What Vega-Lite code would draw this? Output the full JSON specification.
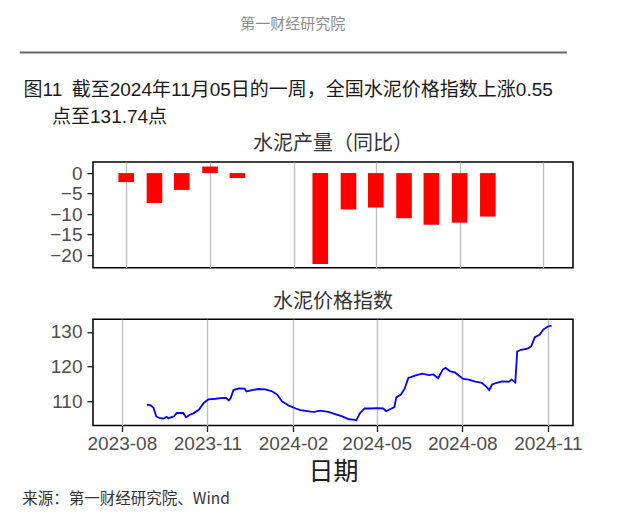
{
  "$schema": "https://vega.github.io/schema/vega-lite/v6.json",
  "background": "#ffffff",
  "padding": {"left": 19, "top": 16, "right": 5, "bottom": 5},
  "spacing": 6.1,
  "title": {
    "text": "来源：第一财经研究院、Wind",
    "orient": "bottom",
    "anchor": "start",
    "dx": 3,
    "offset": 7,
    "fontSize": 15.5,
    "color": "#333333",
    "font": "Noto Sans CJK SC, Liberation Sans"
  },
  "vconcat": [
    {
      "width": 547,
      "height": 1,
      "view": {"stroke": null},
      "title": {
        "text": "第一财经研究院",
        "anchor": "middle",
        "dx": -73.7,
        "offset": 17,
        "fontSize": 15,
        "color": "#8c8c8c"
      },
      "data": {"values": [{"pos": 0}]},
      "mark": {"type": "point", "opacity": 0},
      "encoding": {
        "x": {
          "field": "pos",
          "type": "quantitative",
          "scale": {"domain": [0, 1]},
          "axis": {
            "orient": "bottom",
            "position": -73.7,
            "domain": true,
            "domainColor": "#666666",
            "domainWidth": 2,
            "ticks": false,
            "labels": false,
            "grid": false,
            "title": ["图11\u2002截至2024年11月05日的一周，全国水泥价格指数上涨0.55", "\u200B\u3000\u2002点至131.74点"],
            "titleAnchor": "start",
            "titleAlign": "left",
            "titleBaseline": "top",
            "titleX": 3.7,
            "titlePadding": 28.5,
            "titleLineHeight": 26.7,
            "titleFontSize": 19,
            "titleColor": "#1a1a1a",
            "titleFont": "Liberation Sans, Noto Sans CJK SC"
          }
        }
      }
    },
    {
      "width": 480,
      "height": 105.7,
      "title": {"text": "水泥产量（同比）", "offset": 7.7},
      "data": {
        "values": [
          {"month": "2023-08-01", "yoy": -2.2},
          {"month": "2023-09-01", "yoy": -7.3},
          {"month": "2023-10-01", "yoy": -4.1},
          {"month": "2023-11-01", "yoy": 1.6},
          {"month": "2023-12-01", "yoy": -1.2},
          {"month": "2024-03-01", "yoy": -22.2},
          {"month": "2024-04-01", "yoy": -8.9},
          {"month": "2024-05-01", "yoy": -8.4},
          {"month": "2024-06-01", "yoy": -11.0},
          {"month": "2024-07-01", "yoy": -12.6},
          {"month": "2024-08-01", "yoy": -12.1},
          {"month": "2024-09-01", "yoy": -10.6}
        ]
      },
      "mark": {"type": "bar", "color": "#ff0000", "size": 15.6},
      "encoding": {
        "x": {
          "field": "month",
          "type": "temporal",
          "scale": {
            "type": "utc",
            "domain": [
              {"year": 2023, "month": 7, "date": 1, "utc": true},
              {"year": 2024, "month": 11, "date": 28, "utc": true}
            ]
          },
          "axis": {
            "values": [
              {"year": 2023, "month": 8, "date": 1, "utc": true},
              {"year": 2023, "month": 11, "date": 1, "utc": true},
              {"year": 2024, "month": 2, "date": 1, "utc": true},
              {"year": 2024, "month": 5, "date": 1, "utc": true},
              {"year": 2024, "month": 8, "date": 1, "utc": true},
              {"year": 2024, "month": 11, "date": 1, "utc": true}
            ],
            "labels": false,
            "tickSize": 14.9,
            "tickOpacity": 0,
            "grid": true,
            "domain": false,
            "title": null
          }
        },
        "y": {
          "field": "yoy",
          "type": "quantitative",
          "scale": {"domain": [-23.1, 2.68], "nice": false, "zero": false},
          "axis": {"values": [0, -5, -10, -15, -20], "grid": false, "domain": false, "title": null}
        }
      }
    },
    {
      "width": 480,
      "height": 106.3,
      "title": {"text": "水泥价格指数", "offset": 7.7},
      "data": {
        "values": [
          {"date": "2023-08-28", "idx": 109.0},
          {"date": "2023-09-01", "idx": 108.8},
          {"date": "2023-09-04", "idx": 108.1},
          {"date": "2023-09-07", "idx": 105.6},
          {"date": "2023-09-11", "idx": 105.1},
          {"date": "2023-09-15", "idx": 105.0},
          {"date": "2023-09-18", "idx": 105.5},
          {"date": "2023-09-20", "idx": 105.1},
          {"date": "2023-09-26", "idx": 105.6},
          {"date": "2023-09-29", "idx": 106.6},
          {"date": "2023-10-06", "idx": 106.6},
          {"date": "2023-10-09", "idx": 105.4},
          {"date": "2023-10-13", "idx": 106.1},
          {"date": "2023-10-17", "idx": 106.5},
          {"date": "2023-10-23", "idx": 107.6},
          {"date": "2023-10-28", "idx": 109.5},
          {"date": "2023-11-02", "idx": 110.5},
          {"date": "2023-11-10", "idx": 110.7},
          {"date": "2023-11-15", "idx": 110.9},
          {"date": "2023-11-21", "idx": 110.95},
          {"date": "2023-11-24", "idx": 110.2},
          {"date": "2023-11-26", "idx": 110.9},
          {"date": "2023-11-29", "idx": 113.2},
          {"date": "2023-12-05", "idx": 113.7},
          {"date": "2023-12-11", "idx": 113.6},
          {"date": "2023-12-13", "idx": 112.8},
          {"date": "2023-12-19", "idx": 113.2},
          {"date": "2023-12-26", "idx": 113.5},
          {"date": "2024-01-02", "idx": 113.4},
          {"date": "2024-01-09", "idx": 112.9},
          {"date": "2024-01-15", "idx": 111.9},
          {"date": "2024-01-20", "idx": 110.0},
          {"date": "2024-01-27", "idx": 108.8},
          {"date": "2024-02-04", "idx": 107.9},
          {"date": "2024-02-09", "idx": 107.4},
          {"date": "2024-02-20", "idx": 107.0},
          {"date": "2024-02-24", "idx": 106.9},
          {"date": "2024-03-01", "idx": 107.3},
          {"date": "2024-03-10", "idx": 106.9},
          {"date": "2024-03-18", "idx": 106.2},
          {"date": "2024-03-25", "idx": 105.6},
          {"date": "2024-04-01", "idx": 104.8},
          {"date": "2024-04-06", "idx": 104.7},
          {"date": "2024-04-09", "idx": 104.5},
          {"date": "2024-04-13", "idx": 106.6},
          {"date": "2024-04-18", "idx": 107.9},
          {"date": "2024-04-24", "idx": 107.9},
          {"date": "2024-05-01", "idx": 108.0},
          {"date": "2024-05-08", "idx": 107.9},
          {"date": "2024-05-11", "idx": 107.1},
          {"date": "2024-05-17", "idx": 107.9},
          {"date": "2024-05-20", "idx": 108.3},
          {"date": "2024-05-22", "idx": 111.1},
          {"date": "2024-05-27", "idx": 111.9},
          {"date": "2024-05-31", "idx": 113.6},
          {"date": "2024-06-04", "idx": 116.7},
          {"date": "2024-06-12", "idx": 117.4},
          {"date": "2024-06-19", "idx": 117.9},
          {"date": "2024-06-26", "idx": 117.5},
          {"date": "2024-07-01", "idx": 117.7},
          {"date": "2024-07-06", "idx": 116.6},
          {"date": "2024-07-11", "idx": 119.1},
          {"date": "2024-07-14", "idx": 119.6},
          {"date": "2024-07-19", "idx": 118.6},
          {"date": "2024-07-24", "idx": 118.3},
          {"date": "2024-07-28", "idx": 117.4},
          {"date": "2024-08-02", "idx": 116.4},
          {"date": "2024-08-08", "idx": 116.2},
          {"date": "2024-08-15", "idx": 115.6},
          {"date": "2024-08-22", "idx": 115.3},
          {"date": "2024-08-27", "idx": 114.1},
          {"date": "2024-08-30", "idx": 113.2},
          {"date": "2024-09-02", "idx": 114.8},
          {"date": "2024-09-07", "idx": 115.3},
          {"date": "2024-09-13", "idx": 115.7},
          {"date": "2024-09-20", "idx": 115.6},
          {"date": "2024-09-23", "idx": 116.2},
          {"date": "2024-09-27", "idx": 115.4},
          {"date": "2024-09-29", "idx": 124.3},
          {"date": "2024-10-03", "idx": 124.8},
          {"date": "2024-10-10", "idx": 125.1},
          {"date": "2024-10-14", "idx": 125.8},
          {"date": "2024-10-18", "idx": 128.4},
          {"date": "2024-10-23", "idx": 129.1},
          {"date": "2024-10-27", "idx": 130.6},
          {"date": "2024-11-01", "idx": 131.5},
          {"date": "2024-11-05", "idx": 131.74}
        ]
      },
      "mark": {"type": "line", "color": "#0000ff", "strokeWidth": 1.8},
      "encoding": {
        "x": {
          "field": "date",
          "type": "temporal",
          "scale": {
            "type": "utc",
            "domain": [
              {"year": 2023, "month": 7, "date": 1, "utc": true},
              {"year": 2024, "month": 11, "date": 28, "utc": true}
            ]
          },
          "axis": {
            "values": [
              {"year": 2023, "month": 8, "date": 1, "utc": true},
              {"year": 2023, "month": 11, "date": 1, "utc": true},
              {"year": 2024, "month": 2, "date": 1, "utc": true},
              {"year": 2024, "month": 5, "date": 1, "utc": true},
              {"year": 2024, "month": 8, "date": 1, "utc": true},
              {"year": 2024, "month": 11, "date": 1, "utc": true}
            ],
            "format": "%Y-%m",
            "grid": true,
            "domain": false,
            "labelPadding": 3,
            "title": "日期",
            "titleFontSize": 25,
            "titlePadding": 6
          }
        },
        "y": {
          "field": "idx",
          "type": "quantitative",
          "scale": {"domain": [103, 133.6], "nice": false, "zero": false},
          "axis": {"values": [110, 120, 130], "grid": false, "domain": false, "title": null}
        }
      }
    }
  ],
  "config": {
    "font": "Liberation Sans",
    "view": {"stroke": "#000000", "strokeWidth": 1.5},
    "axis": {
      "labelFont": "Liberation Sans",
      "labelFontSize": 19,
      "labelColor": "#4d4d4d",
      "labelPadding": 5,
      "tickColor": "#1a1a1a",
      "tickWidth": 1.3,
      "tickSize": 6,
      "gridColor": "#bebebe",
      "gridWidth": 1.3,
      "titleFont": "Noto Sans CJK SC",
      "titleFontWeight": "normal",
      "titleColor": "#1a1a1a"
    },
    "title": {
      "font": "Noto Sans CJK SC",
      "fontSize": 20,
      "fontWeight": "normal",
      "color": "#333333"
    }
  }
}
